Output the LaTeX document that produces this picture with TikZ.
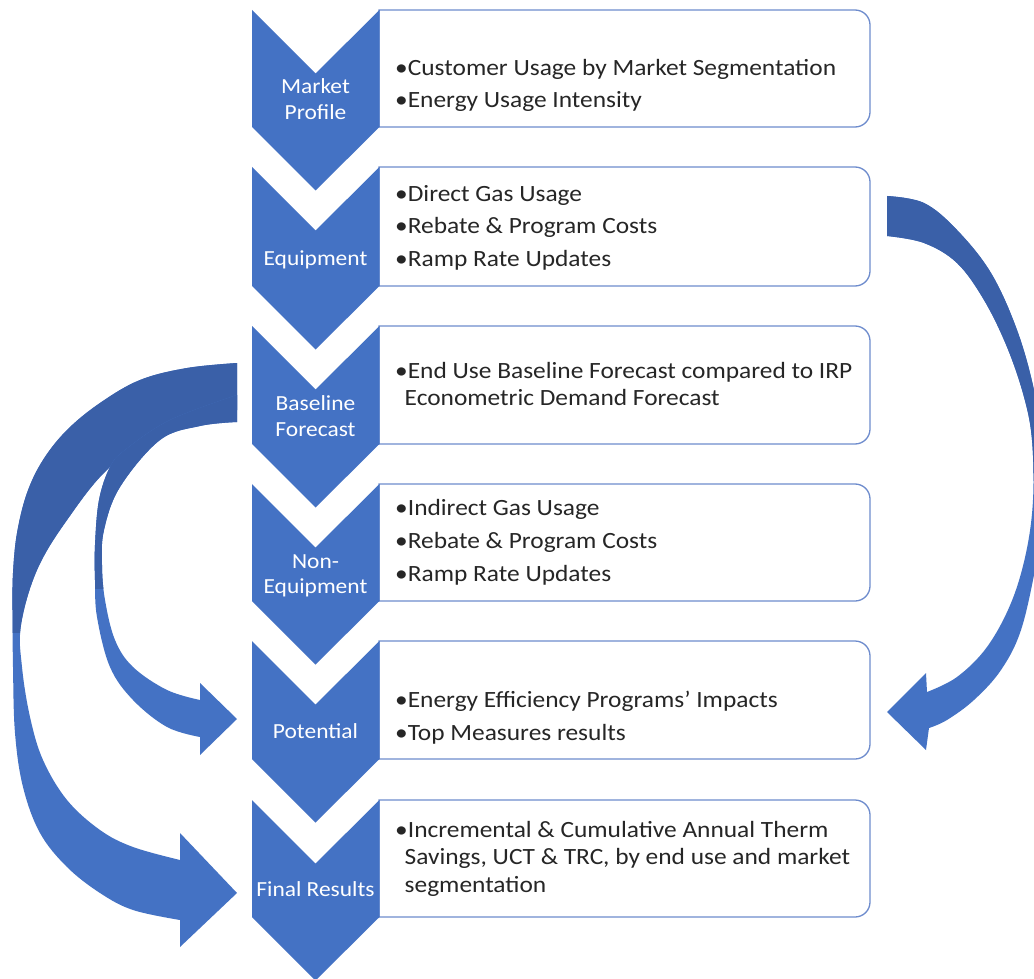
\documentclass[tikz,border=0pt]{standalone}
\usepackage{fontspec}
\setmainfont{Carlito}[FakeStretch=1.09]
\definecolor{chev}{RGB}{68,114,196}
\definecolor{backc}{RGB}{58,96,168}
\definecolor{boxline}{RGB}{110,140,205}
\definecolor{txt}{RGB}{38,38,38}
\tikzset{
  chevron/.style={fill=chev},
  boxshape/.style={fill=white, draw=boxline, line width=1.3pt},
  boxtext/.style={anchor=base west, inner sep=0pt, text=txt, font=\fontsize{23.3}{28}\selectfont},
  chevtext/.style={anchor=base, inner sep=0pt, text=white, font=\fontsize{21.5}{26}\selectfont},
  arrfront/.style={fill=chev},
  arrback/.style={fill=backc},
}
\begin{document}
\begin{tikzpicture}[x=1pt,y=-1pt]
\useasboundingbox (0,0) rectangle (1034,979);
\clip (0,0) rectangle (1034,979);
\fill[white] (0,0) rectangle (1034,979);

% text boxes
\foreach \T/\B in {10/127,167/286,326/444,484/601,641/759,800/917}{
  \path[boxshape] (379,\T) -- (855,\T) .. controls (863.3,\T) and (870,\T+6.7) .. (870,\T+15)
    -- (870,\B-15) .. controls (870,\B-6.7) and (863.3,\B) .. (855,\B) -- (379,\B) -- cycle;
}
% chevrons
\foreach \T/\B in {10/127,167/286,326/444,484/601,641/759,800/917}{
  \fill[chevron] (252,\T) -- (315.5,\T+63.5) -- (379.5,\T) -- (379.5,\B) -- (315.5,\B+63.5) -- (252,\B) -- cycle;
}

% chevron labels
\node[chevtext] (c1a) at (315.5,94) {Market};
\node[chevtext] (c1b) at (315.5,119.5) {Profile};
\node[chevtext] (c2) at (315.5,265) {Equipment};
\node[chevtext] (c3a) at (315.5,410) {Baseline};
\node[chevtext] (c3b) at (315.5,436) {Forecast};
\node[chevtext] (c4a) at (315.5,568) {Non-};
\node[chevtext] (c4b) at (315.5,593.5) {Equipment};
\node[chevtext] (c5) at (315.5,738) {Potential};
\node[chevtext] (c6) at (315.5,896) {Final Results};

% box texts
\node[boxtext] (t1a) at (395,75.5) {•Customer Usage by Market Segmentation};
\node[boxtext] (t1b) at (395,107.5) {•Energy Usage Intensity};
\node[boxtext] (t2a) at (395,201) {•Direct Gas Usage};
\node[boxtext] (t2b) at (395,233.5) {•Rebate \& Program Costs};
\node[boxtext] (t2c) at (395,266) {•Ramp Rate Updates};
\node[boxtext] (t3a) at (395,378) {•End Use Baseline Forecast compared to IRP};
\node[boxtext] (t3b) at (404.5,405) {Econometric Demand Forecast};
\node[boxtext] (t4a) at (395,515) {•Indirect Gas Usage};
\node[boxtext] (t4b) at (395,548) {•Rebate \& Program Costs};
\node[boxtext] (t4c) at (395,581) {•Ramp Rate Updates};
\node[boxtext] (t5a) at (395,707) {•Energy Efficiency Programs’ Impacts};
\node[boxtext] (t5b) at (395,740) {•Top Measures results};
\node[boxtext] (t6a) at (395,837) {•Incremental \& Cumulative Annual Therm};
\node[boxtext] (t6b) at (404.5,864.5) {Savings, UCT \& TRC, by end use and market};
\node[boxtext] (t6c) at (404.5,892) {segmentation};

% big left arrow (Baseline -> Final Results)
\def\bigarrow{plot[smooth, tension=0.6] coordinates {(237,363) (187,368) (140,380) (100,403) (67,430) (43,460) (27,493) (17,533) (13,573) (12.5,610) (13,667) (15,733) (23,787) (40,833) (67,867) (100,893) (133,910) (180,920)}
  -- (180,947) -- (237,893) -- (180,833) -- (180,860)
  -- plot[smooth, tension=0.6] coordinates {(180,860) (133,847) (100,830) (67,800) (43,760) (30,717) (22,667) (21,625) (37,570) (67,520) (110,467) (170,427) (237,410)} -- cycle}
\fill[arrfront] \bigarrow;
\begin{scope}
  \clip (0,0) rectangle (260,632);
  \fill[arrback] \bigarrow;
\end{scope}

% small left arrow (Baseline -> Potential)
\def\smallarrow{plot[smooth, tension=0.6] coordinates {(237,395) (170,420) (125,450) (110,467) (99,500) (95,545) (95,580) (97,617) (110,667) (133,700) (167,727) (200,737)}
  -- (200,755) -- (237,719) -- (200,683) -- (200,700)
  -- plot[smooth, tension=0.6] coordinates {(200,700) (167,690) (133,667) (115,640) (105,600) (102,565) (104,530) (120,487) (160,440) (200,426) (237,422)} -- cycle}
\fill[arrfront] \smallarrow;
\begin{scope}
  \clip (0,0) rectangle (260,588);
  \fill[arrback] \smallarrow;
\end{scope}

% right arrow (Equipment -> Potential)
\def\rightarrow{plot[smooth, tension=0.6] coordinates {(887,196) (924,203) (957,230) (991,273) (1017,330) (1034,390) (1043,450) (1045,510) (1036,565) (1021,630) (1001,670) (974,700) (947,720) (929,728)}
  -- (926,750) -- (887,712) -- (926,673) -- (927,692)
  -- plot[smooth, tension=0.6] coordinates {(927,692) (957,677) (987,647) (1011,603) (1026,553) (1033,500) (1032,440) (1024,397) (1007,347) (984,300) (957,263) (924,243) (887,236)} -- cycle}
\fill[arrfront] \rightarrow;
\begin{scope}
  \clip (800,0) rectangle (1034,480);
  \fill[arrback] \rightarrow;
\end{scope}
\end{tikzpicture}
\end{document}
